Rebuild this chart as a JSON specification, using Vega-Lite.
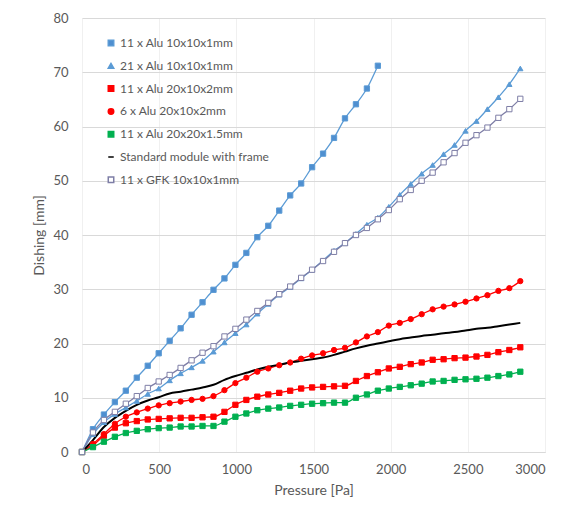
{
"$schema": "https://vega.github.io/schema/vega-lite/v6.json",
"width": 463, "height": 434,
"autosize": {"type": "none"},
"padding": {"left": 82, "top": 18, "right": 21, "bottom": 56},
"background": "white",
"config": {
 "font": "Lato",
 "view": {"stroke": null},
 "axis": {"labelFont": "Lato", "labelFontSize": 13, "labelColor": "#595959", "titleFont": "Lato", "titleFontSize": 14, "titleFontWeight": "normal", "titleColor": "#595959", "ticks": false, "domainColor": "#d9d9d9", "gridColor": "#d9d9d9"}
},
"data": {"values": [
{"series":"11 x Alu 10x10x1mm","pressure":0,"dishing":0},
{"series":"11 x Alu 10x10x1mm","pressure":71,"dishing":4.2},
{"series":"11 x Alu 10x10x1mm","pressure":142,"dishing":6.9},
{"series":"11 x Alu 10x10x1mm","pressure":213,"dishing":9.2},
{"series":"11 x Alu 10x10x1mm","pressure":284,"dishing":11.3},
{"series":"11 x Alu 10x10x1mm","pressure":355,"dishing":13.7},
{"series":"11 x Alu 10x10x1mm","pressure":426,"dishing":15.9},
{"series":"11 x Alu 10x10x1mm","pressure":497,"dishing":18.2},
{"series":"11 x Alu 10x10x1mm","pressure":568,"dishing":20.5},
{"series":"11 x Alu 10x10x1mm","pressure":639,"dishing":22.8},
{"series":"11 x Alu 10x10x1mm","pressure":710,"dishing":25.3},
{"series":"11 x Alu 10x10x1mm","pressure":781,"dishing":27.6},
{"series":"11 x Alu 10x10x1mm","pressure":852,"dishing":29.9},
{"series":"11 x Alu 10x10x1mm","pressure":923,"dishing":32.0},
{"series":"11 x Alu 10x10x1mm","pressure":994,"dishing":34.5},
{"series":"11 x Alu 10x10x1mm","pressure":1065,"dishing":36.7},
{"series":"11 x Alu 10x10x1mm","pressure":1136,"dishing":39.6},
{"series":"11 x Alu 10x10x1mm","pressure":1207,"dishing":41.7},
{"series":"11 x Alu 10x10x1mm","pressure":1278,"dishing":44.5},
{"series":"11 x Alu 10x10x1mm","pressure":1349,"dishing":47.3},
{"series":"11 x Alu 10x10x1mm","pressure":1420,"dishing":49.5},
{"series":"11 x Alu 10x10x1mm","pressure":1491,"dishing":52.5},
{"series":"11 x Alu 10x10x1mm","pressure":1562,"dishing":55.0},
{"series":"11 x Alu 10x10x1mm","pressure":1633,"dishing":57.9},
{"series":"11 x Alu 10x10x1mm","pressure":1704,"dishing":61.5},
{"series":"11 x Alu 10x10x1mm","pressure":1775,"dishing":64.1},
{"series":"11 x Alu 10x10x1mm","pressure":1846,"dishing":67.0},
{"series":"11 x Alu 10x10x1mm","pressure":1917,"dishing":71.2},
{"series":"21 x Alu 10x10x1mm","pressure":0,"dishing":0},
{"series":"21 x Alu 10x10x1mm","pressure":71,"dishing":3.3},
{"series":"21 x Alu 10x10x1mm","pressure":142,"dishing":5.5},
{"series":"21 x Alu 10x10x1mm","pressure":213,"dishing":7.0},
{"series":"21 x Alu 10x10x1mm","pressure":284,"dishing":8.2},
{"series":"21 x Alu 10x10x1mm","pressure":355,"dishing":9.4},
{"series":"21 x Alu 10x10x1mm","pressure":426,"dishing":10.7},
{"series":"21 x Alu 10x10x1mm","pressure":497,"dishing":11.7},
{"series":"21 x Alu 10x10x1mm","pressure":568,"dishing":13.2},
{"series":"21 x Alu 10x10x1mm","pressure":639,"dishing":14.5},
{"series":"21 x Alu 10x10x1mm","pressure":710,"dishing":15.6},
{"series":"21 x Alu 10x10x1mm","pressure":781,"dishing":16.8},
{"series":"21 x Alu 10x10x1mm","pressure":852,"dishing":18.5},
{"series":"21 x Alu 10x10x1mm","pressure":923,"dishing":20.2},
{"series":"21 x Alu 10x10x1mm","pressure":994,"dishing":21.9},
{"series":"21 x Alu 10x10x1mm","pressure":1065,"dishing":23.5},
{"series":"21 x Alu 10x10x1mm","pressure":1136,"dishing":25.5},
{"series":"21 x Alu 10x10x1mm","pressure":1207,"dishing":27.3},
{"series":"21 x Alu 10x10x1mm","pressure":1278,"dishing":29.0},
{"series":"21 x Alu 10x10x1mm","pressure":1349,"dishing":30.4},
{"series":"21 x Alu 10x10x1mm","pressure":1420,"dishing":32.0},
{"series":"21 x Alu 10x10x1mm","pressure":1491,"dishing":33.6},
{"series":"21 x Alu 10x10x1mm","pressure":1562,"dishing":35.3},
{"series":"21 x Alu 10x10x1mm","pressure":1633,"dishing":37.1},
{"series":"21 x Alu 10x10x1mm","pressure":1704,"dishing":38.5},
{"series":"21 x Alu 10x10x1mm","pressure":1775,"dishing":40.2},
{"series":"21 x Alu 10x10x1mm","pressure":1846,"dishing":41.9},
{"series":"21 x Alu 10x10x1mm","pressure":1917,"dishing":43.2},
{"series":"21 x Alu 10x10x1mm","pressure":1988,"dishing":45.2},
{"series":"21 x Alu 10x10x1mm","pressure":2059,"dishing":47.4},
{"series":"21 x Alu 10x10x1mm","pressure":2130,"dishing":49.4},
{"series":"21 x Alu 10x10x1mm","pressure":2201,"dishing":51.3},
{"series":"21 x Alu 10x10x1mm","pressure":2272,"dishing":52.9},
{"series":"21 x Alu 10x10x1mm","pressure":2343,"dishing":54.9},
{"series":"21 x Alu 10x10x1mm","pressure":2414,"dishing":56.6},
{"series":"21 x Alu 10x10x1mm","pressure":2485,"dishing":59.2},
{"series":"21 x Alu 10x10x1mm","pressure":2556,"dishing":61.0},
{"series":"21 x Alu 10x10x1mm","pressure":2627,"dishing":63.2},
{"series":"21 x Alu 10x10x1mm","pressure":2698,"dishing":65.4},
{"series":"21 x Alu 10x10x1mm","pressure":2769,"dishing":67.8},
{"series":"21 x Alu 10x10x1mm","pressure":2840,"dishing":70.7},
{"series":"11 x Alu 20x10x2mm","pressure":0,"dishing":0},
{"series":"11 x Alu 20x10x2mm","pressure":71,"dishing":1.2},
{"series":"11 x Alu 20x10x2mm","pressure":142,"dishing":3.0},
{"series":"11 x Alu 20x10x2mm","pressure":213,"dishing":4.5},
{"series":"11 x Alu 20x10x2mm","pressure":284,"dishing":5.3},
{"series":"11 x Alu 20x10x2mm","pressure":355,"dishing":5.7},
{"series":"11 x Alu 20x10x2mm","pressure":426,"dishing":6.0},
{"series":"11 x Alu 20x10x2mm","pressure":497,"dishing":6.1},
{"series":"11 x Alu 20x10x2mm","pressure":568,"dishing":6.2},
{"series":"11 x Alu 20x10x2mm","pressure":639,"dishing":6.3},
{"series":"11 x Alu 20x10x2mm","pressure":710,"dishing":6.3},
{"series":"11 x Alu 20x10x2mm","pressure":781,"dishing":6.4},
{"series":"11 x Alu 20x10x2mm","pressure":852,"dishing":6.5},
{"series":"11 x Alu 20x10x2mm","pressure":923,"dishing":7.4},
{"series":"11 x Alu 20x10x2mm","pressure":994,"dishing":8.7},
{"series":"11 x Alu 20x10x2mm","pressure":1065,"dishing":9.6},
{"series":"11 x Alu 20x10x2mm","pressure":1136,"dishing":10.2},
{"series":"11 x Alu 20x10x2mm","pressure":1207,"dishing":10.6},
{"series":"11 x Alu 20x10x2mm","pressure":1278,"dishing":10.9},
{"series":"11 x Alu 20x10x2mm","pressure":1349,"dishing":11.3},
{"series":"11 x Alu 20x10x2mm","pressure":1420,"dishing":11.7},
{"series":"11 x Alu 20x10x2mm","pressure":1491,"dishing":11.9},
{"series":"11 x Alu 20x10x2mm","pressure":1562,"dishing":12.0},
{"series":"11 x Alu 20x10x2mm","pressure":1633,"dishing":12.1},
{"series":"11 x Alu 20x10x2mm","pressure":1704,"dishing":12.2},
{"series":"11 x Alu 20x10x2mm","pressure":1775,"dishing":13.1},
{"series":"11 x Alu 20x10x2mm","pressure":1846,"dishing":14.0},
{"series":"11 x Alu 20x10x2mm","pressure":1917,"dishing":14.7},
{"series":"11 x Alu 20x10x2mm","pressure":1988,"dishing":15.4},
{"series":"11 x Alu 20x10x2mm","pressure":2059,"dishing":15.7},
{"series":"11 x Alu 20x10x2mm","pressure":2130,"dishing":16.2},
{"series":"11 x Alu 20x10x2mm","pressure":2201,"dishing":16.5},
{"series":"11 x Alu 20x10x2mm","pressure":2272,"dishing":17.0},
{"series":"11 x Alu 20x10x2mm","pressure":2343,"dishing":17.1},
{"series":"11 x Alu 20x10x2mm","pressure":2414,"dishing":17.3},
{"series":"11 x Alu 20x10x2mm","pressure":2485,"dishing":17.4},
{"series":"11 x Alu 20x10x2mm","pressure":2556,"dishing":17.6},
{"series":"11 x Alu 20x10x2mm","pressure":2627,"dishing":17.9},
{"series":"11 x Alu 20x10x2mm","pressure":2698,"dishing":18.4},
{"series":"11 x Alu 20x10x2mm","pressure":2769,"dishing":18.8},
{"series":"11 x Alu 20x10x2mm","pressure":2840,"dishing":19.3},
{"series":"6 x Alu 20x10x2mm","pressure":0,"dishing":0},
{"series":"6 x Alu 20x10x2mm","pressure":71,"dishing":1.5},
{"series":"6 x Alu 20x10x2mm","pressure":142,"dishing":3.3},
{"series":"6 x Alu 20x10x2mm","pressure":213,"dishing":5.2},
{"series":"6 x Alu 20x10x2mm","pressure":284,"dishing":6.5},
{"series":"6 x Alu 20x10x2mm","pressure":355,"dishing":7.3},
{"series":"6 x Alu 20x10x2mm","pressure":426,"dishing":8.0},
{"series":"6 x Alu 20x10x2mm","pressure":497,"dishing":8.6},
{"series":"6 x Alu 20x10x2mm","pressure":568,"dishing":9.0},
{"series":"6 x Alu 20x10x2mm","pressure":639,"dishing":9.3},
{"series":"6 x Alu 20x10x2mm","pressure":710,"dishing":9.6},
{"series":"6 x Alu 20x10x2mm","pressure":781,"dishing":9.8},
{"series":"6 x Alu 20x10x2mm","pressure":852,"dishing":10.3},
{"series":"6 x Alu 20x10x2mm","pressure":923,"dishing":11.4},
{"series":"6 x Alu 20x10x2mm","pressure":994,"dishing":12.7},
{"series":"6 x Alu 20x10x2mm","pressure":1065,"dishing":13.7},
{"series":"6 x Alu 20x10x2mm","pressure":1136,"dishing":14.8},
{"series":"6 x Alu 20x10x2mm","pressure":1207,"dishing":15.4},
{"series":"6 x Alu 20x10x2mm","pressure":1278,"dishing":16.0},
{"series":"6 x Alu 20x10x2mm","pressure":1349,"dishing":16.5},
{"series":"6 x Alu 20x10x2mm","pressure":1420,"dishing":17.2},
{"series":"6 x Alu 20x10x2mm","pressure":1491,"dishing":17.8},
{"series":"6 x Alu 20x10x2mm","pressure":1562,"dishing":18.2},
{"series":"6 x Alu 20x10x2mm","pressure":1633,"dishing":18.8},
{"series":"6 x Alu 20x10x2mm","pressure":1704,"dishing":19.2},
{"series":"6 x Alu 20x10x2mm","pressure":1775,"dishing":20.2},
{"series":"6 x Alu 20x10x2mm","pressure":1846,"dishing":21.3},
{"series":"6 x Alu 20x10x2mm","pressure":1917,"dishing":22.1},
{"series":"6 x Alu 20x10x2mm","pressure":1988,"dishing":23.3},
{"series":"6 x Alu 20x10x2mm","pressure":2059,"dishing":23.8},
{"series":"6 x Alu 20x10x2mm","pressure":2130,"dishing":24.5},
{"series":"6 x Alu 20x10x2mm","pressure":2201,"dishing":25.4},
{"series":"6 x Alu 20x10x2mm","pressure":2272,"dishing":26.3},
{"series":"6 x Alu 20x10x2mm","pressure":2343,"dishing":26.8},
{"series":"6 x Alu 20x10x2mm","pressure":2414,"dishing":27.2},
{"series":"6 x Alu 20x10x2mm","pressure":2485,"dishing":27.7},
{"series":"6 x Alu 20x10x2mm","pressure":2556,"dishing":28.3},
{"series":"6 x Alu 20x10x2mm","pressure":2627,"dishing":28.9},
{"series":"6 x Alu 20x10x2mm","pressure":2698,"dishing":29.7},
{"series":"6 x Alu 20x10x2mm","pressure":2769,"dishing":30.2},
{"series":"6 x Alu 20x10x2mm","pressure":2840,"dishing":31.5},
{"series":"11 x Alu 20x20x1.5mm","pressure":0,"dishing":0},
{"series":"11 x Alu 20x20x1.5mm","pressure":71,"dishing":0.9},
{"series":"11 x Alu 20x20x1.5mm","pressure":142,"dishing":1.9},
{"series":"11 x Alu 20x20x1.5mm","pressure":213,"dishing":2.8},
{"series":"11 x Alu 20x20x1.5mm","pressure":284,"dishing":3.5},
{"series":"11 x Alu 20x20x1.5mm","pressure":355,"dishing":3.9},
{"series":"11 x Alu 20x20x1.5mm","pressure":426,"dishing":4.2},
{"series":"11 x Alu 20x20x1.5mm","pressure":497,"dishing":4.4},
{"series":"11 x Alu 20x20x1.5mm","pressure":568,"dishing":4.5},
{"series":"11 x Alu 20x20x1.5mm","pressure":639,"dishing":4.7},
{"series":"11 x Alu 20x20x1.5mm","pressure":710,"dishing":4.7},
{"series":"11 x Alu 20x20x1.5mm","pressure":781,"dishing":4.8},
{"series":"11 x Alu 20x20x1.5mm","pressure":852,"dishing":4.8},
{"series":"11 x Alu 20x20x1.5mm","pressure":923,"dishing":5.6},
{"series":"11 x Alu 20x20x1.5mm","pressure":994,"dishing":6.5},
{"series":"11 x Alu 20x20x1.5mm","pressure":1065,"dishing":7.1},
{"series":"11 x Alu 20x20x1.5mm","pressure":1136,"dishing":7.7},
{"series":"11 x Alu 20x20x1.5mm","pressure":1207,"dishing":8.0},
{"series":"11 x Alu 20x20x1.5mm","pressure":1278,"dishing":8.2},
{"series":"11 x Alu 20x20x1.5mm","pressure":1349,"dishing":8.5},
{"series":"11 x Alu 20x20x1.5mm","pressure":1420,"dishing":8.7},
{"series":"11 x Alu 20x20x1.5mm","pressure":1491,"dishing":8.9},
{"series":"11 x Alu 20x20x1.5mm","pressure":1562,"dishing":9.0},
{"series":"11 x Alu 20x20x1.5mm","pressure":1633,"dishing":9.1},
{"series":"11 x Alu 20x20x1.5mm","pressure":1704,"dishing":9.1},
{"series":"11 x Alu 20x20x1.5mm","pressure":1775,"dishing":10.0},
{"series":"11 x Alu 20x20x1.5mm","pressure":1846,"dishing":10.6},
{"series":"11 x Alu 20x20x1.5mm","pressure":1917,"dishing":11.3},
{"series":"11 x Alu 20x20x1.5mm","pressure":1988,"dishing":11.7},
{"series":"11 x Alu 20x20x1.5mm","pressure":2059,"dishing":12.0},
{"series":"11 x Alu 20x20x1.5mm","pressure":2130,"dishing":12.3},
{"series":"11 x Alu 20x20x1.5mm","pressure":2201,"dishing":12.6},
{"series":"11 x Alu 20x20x1.5mm","pressure":2272,"dishing":13.0},
{"series":"11 x Alu 20x20x1.5mm","pressure":2343,"dishing":13.1},
{"series":"11 x Alu 20x20x1.5mm","pressure":2414,"dishing":13.3},
{"series":"11 x Alu 20x20x1.5mm","pressure":2485,"dishing":13.4},
{"series":"11 x Alu 20x20x1.5mm","pressure":2556,"dishing":13.5},
{"series":"11 x Alu 20x20x1.5mm","pressure":2627,"dishing":13.7},
{"series":"11 x Alu 20x20x1.5mm","pressure":2698,"dishing":14.0},
{"series":"11 x Alu 20x20x1.5mm","pressure":2769,"dishing":14.3},
{"series":"11 x Alu 20x20x1.5mm","pressure":2840,"dishing":14.8},
{"series":"Standard module with frame","pressure":0,"dishing":0},
{"series":"Standard module with frame","pressure":71,"dishing":2.2},
{"series":"Standard module with frame","pressure":142,"dishing":4.6},
{"series":"Standard module with frame","pressure":213,"dishing":6.3},
{"series":"Standard module with frame","pressure":284,"dishing":7.6},
{"series":"Standard module with frame","pressure":355,"dishing":8.7},
{"series":"Standard module with frame","pressure":426,"dishing":9.5},
{"series":"Standard module with frame","pressure":497,"dishing":10.1},
{"series":"Standard module with frame","pressure":568,"dishing":10.8},
{"series":"Standard module with frame","pressure":639,"dishing":11.1},
{"series":"Standard module with frame","pressure":710,"dishing":11.5},
{"series":"Standard module with frame","pressure":781,"dishing":11.9},
{"series":"Standard module with frame","pressure":852,"dishing":12.4},
{"series":"Standard module with frame","pressure":923,"dishing":13.3},
{"series":"Standard module with frame","pressure":994,"dishing":14.0},
{"series":"Standard module with frame","pressure":1065,"dishing":14.6},
{"series":"Standard module with frame","pressure":1136,"dishing":15.2},
{"series":"Standard module with frame","pressure":1207,"dishing":15.7},
{"series":"Standard module with frame","pressure":1278,"dishing":16.1},
{"series":"Standard module with frame","pressure":1349,"dishing":16.5},
{"series":"Standard module with frame","pressure":1420,"dishing":16.8},
{"series":"Standard module with frame","pressure":1491,"dishing":17.1},
{"series":"Standard module with frame","pressure":1562,"dishing":17.4},
{"series":"Standard module with frame","pressure":1633,"dishing":17.9},
{"series":"Standard module with frame","pressure":1704,"dishing":18.5},
{"series":"Standard module with frame","pressure":1775,"dishing":19.1},
{"series":"Standard module with frame","pressure":1846,"dishing":19.6},
{"series":"Standard module with frame","pressure":1917,"dishing":20.0},
{"series":"Standard module with frame","pressure":1988,"dishing":20.4},
{"series":"Standard module with frame","pressure":2059,"dishing":20.8},
{"series":"Standard module with frame","pressure":2130,"dishing":21.1},
{"series":"Standard module with frame","pressure":2201,"dishing":21.4},
{"series":"Standard module with frame","pressure":2272,"dishing":21.6},
{"series":"Standard module with frame","pressure":2343,"dishing":21.9},
{"series":"Standard module with frame","pressure":2414,"dishing":22.1},
{"series":"Standard module with frame","pressure":2485,"dishing":22.4},
{"series":"Standard module with frame","pressure":2556,"dishing":22.7},
{"series":"Standard module with frame","pressure":2627,"dishing":22.9},
{"series":"Standard module with frame","pressure":2698,"dishing":23.2},
{"series":"Standard module with frame","pressure":2769,"dishing":23.5},
{"series":"Standard module with frame","pressure":2840,"dishing":23.8},
{"series":"11 x GFK 10x10x1mm","pressure":0,"dishing":0},
{"series":"11 x GFK 10x10x1mm","pressure":71,"dishing":3.6},
{"series":"11 x GFK 10x10x1mm","pressure":142,"dishing":5.9},
{"series":"11 x GFK 10x10x1mm","pressure":213,"dishing":7.4},
{"series":"11 x GFK 10x10x1mm","pressure":284,"dishing":8.9},
{"series":"11 x GFK 10x10x1mm","pressure":355,"dishing":10.3},
{"series":"11 x GFK 10x10x1mm","pressure":426,"dishing":11.8},
{"series":"11 x GFK 10x10x1mm","pressure":497,"dishing":13.0},
{"series":"11 x GFK 10x10x1mm","pressure":568,"dishing":14.2},
{"series":"11 x GFK 10x10x1mm","pressure":639,"dishing":15.5},
{"series":"11 x GFK 10x10x1mm","pressure":710,"dishing":16.9},
{"series":"11 x GFK 10x10x1mm","pressure":781,"dishing":18.3},
{"series":"11 x GFK 10x10x1mm","pressure":852,"dishing":19.5},
{"series":"11 x GFK 10x10x1mm","pressure":923,"dishing":21.3},
{"series":"11 x GFK 10x10x1mm","pressure":994,"dishing":22.7},
{"series":"11 x GFK 10x10x1mm","pressure":1065,"dishing":24.4},
{"series":"11 x GFK 10x10x1mm","pressure":1136,"dishing":26.0},
{"series":"11 x GFK 10x10x1mm","pressure":1207,"dishing":27.5},
{"series":"11 x GFK 10x10x1mm","pressure":1278,"dishing":29.1},
{"series":"11 x GFK 10x10x1mm","pressure":1349,"dishing":30.5},
{"series":"11 x GFK 10x10x1mm","pressure":1420,"dishing":32.1},
{"series":"11 x GFK 10x10x1mm","pressure":1491,"dishing":33.6},
{"series":"11 x GFK 10x10x1mm","pressure":1562,"dishing":35.2},
{"series":"11 x GFK 10x10x1mm","pressure":1633,"dishing":36.9},
{"series":"11 x GFK 10x10x1mm","pressure":1704,"dishing":38.5},
{"series":"11 x GFK 10x10x1mm","pressure":1775,"dishing":40.0},
{"series":"11 x GFK 10x10x1mm","pressure":1846,"dishing":41.3},
{"series":"11 x GFK 10x10x1mm","pressure":1917,"dishing":42.9},
{"series":"11 x GFK 10x10x1mm","pressure":1988,"dishing":44.6},
{"series":"11 x GFK 10x10x1mm","pressure":2059,"dishing":46.6},
{"series":"11 x GFK 10x10x1mm","pressure":2130,"dishing":48.3},
{"series":"11 x GFK 10x10x1mm","pressure":2201,"dishing":50.0},
{"series":"11 x GFK 10x10x1mm","pressure":2272,"dishing":51.5},
{"series":"11 x GFK 10x10x1mm","pressure":2343,"dishing":53.4},
{"series":"11 x GFK 10x10x1mm","pressure":2414,"dishing":55.1},
{"series":"11 x GFK 10x10x1mm","pressure":2485,"dishing":57.0},
{"series":"11 x GFK 10x10x1mm","pressure":2556,"dishing":58.4},
{"series":"11 x GFK 10x10x1mm","pressure":2627,"dishing":59.8},
{"series":"11 x GFK 10x10x1mm","pressure":2698,"dishing":61.6},
{"series":"11 x GFK 10x10x1mm","pressure":2769,"dishing":63.2},
{"series":"11 x GFK 10x10x1mm","pressure":2840,"dishing":65.1}
]},
"encoding": {
 "x": {"field": "pressure", "type": "quantitative", "scale": {"domain": [0, 3000], "nice": false}, "axis": {"title": "Pressure [Pa]", "format": "d", "values": [0, 500, 1000, 1500, 2000, 2500, 3000], "grid": true, "gridColor": "#f0f0f0", "labelPadding": 11, "titlePadding": 7, "domain": true}},
 "y": {"field": "dishing", "type": "quantitative", "scale": {"domain": [0, 80], "nice": false}, "axis": {"title": "Dishing [mm]", "format": "d", "values": [0, 10, 20, 30, 40, 50, 60, 70, 80], "grid": true, "labelPadding": 14, "titlePadding": 6, "domain": false}}
},
"layer": [
 {"mark": {"type": "line", "interpolate": "monotone"},
  "encoding": {
   "stroke": {"field": "series", "type": "nominal", "title": null,
     "scale": {"domain": ["11 x Alu 10x10x1mm", "21 x Alu 10x10x1mm", "11 x Alu 20x10x2mm", "6 x Alu 20x10x2mm", "11 x Alu 20x20x1.5mm", "Standard module with frame", "11 x GFK 10x10x1mm"],
               "range": ["#5B9BD5", "#5B9BD5", "#FF0000", "#FF0000", "#00B050", "#000000", "#7E7EA6"]},
     "legend": {"orient": "none", "legendX": 23, "legendY": 19, "labelFont": "Lato", "labelFontSize": 12, "labelColor": "#595959", "symbolSize": 30, "rowPadding": 10.8, "labelOffset": 3, "padding": 0, "symbolStrokeWidth": 1.5}},
   "strokeWidth": {"condition": {"test": "datum.series === 'Standard module with frame'", "value": 2}, "value": 1.3}
  }},
 {"transform": [{"filter": "datum.series !== 'Standard module with frame'"}],
  "mark": {"type": "point", "size": 28, "strokeWidth": 1, "opacity": 1, "fillOpacity": 1},
  "encoding": {
   "shape": {"field": "series", "type": "nominal", "title": null,
     "scale": {"domain": ["11 x Alu 10x10x1mm", "21 x Alu 10x10x1mm", "11 x Alu 20x10x2mm", "6 x Alu 20x10x2mm", "11 x Alu 20x20x1.5mm", "Standard module with frame", "11 x GFK 10x10x1mm"],
               "range": ["square", "triangle-up", "square", "circle", "square", "M-1,0L1,0", "square"]}},
   "fill": {"field": "series", "type": "nominal", "title": null,
     "scale": {"domain": ["11 x Alu 10x10x1mm", "21 x Alu 10x10x1mm", "11 x Alu 20x10x2mm", "6 x Alu 20x10x2mm", "11 x Alu 20x20x1.5mm", "Standard module with frame", "11 x GFK 10x10x1mm"],
               "range": ["#4F8FD0", "#5B9BD5", "#FF0000", "#FF0000", "#00B050", "#000000", "#FFFFFF"]}},
   "stroke": {"field": "series", "type": "nominal", "title": null}
  }}
]
}
